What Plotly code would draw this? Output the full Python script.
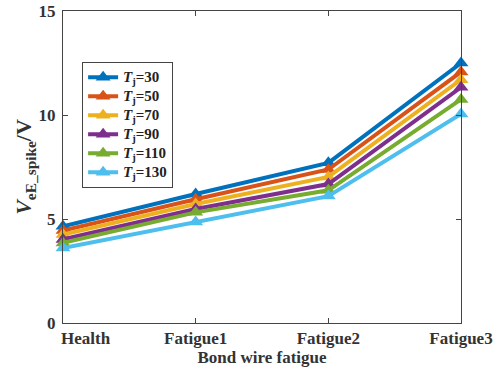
import plotly.graph_objects as go

categories = ["Health", "Fatigue1", "Fatigue2", "Fatigue3"]
temps = [30, 50, 70, 90, 110, 130]
v_30 = [4.65, 6.2, 7.7, 12.5]
v_50 = [4.45, 5.95, 7.38, 12.07]
v_70 = [4.25, 5.72, 7.02, 11.7]
v_90 = [4.02, 5.48, 6.68, 11.33]
v_110 = [3.85, 5.32, 6.38, 10.75]
v_130 = [3.6, 4.86, 6.1, 10.05]
series = [v_30, v_50, v_70, v_90, v_110, v_130]
colors = ["#0072BD", "#D95319", "#EDB120", "#7E2F8E", "#77AC30", "#4DBEEE"]

font_family = "Liberation Serif, Times New Roman, serif"

fig = go.Figure()
for t, vals, c in zip(temps, series, colors):
    fig.add_trace(go.Scatter(
        x=list(range(len(categories))), y=vals, mode="lines+markers",
        name=f"<span style='font-size:15px'><b><i>T</i><sub>j</sub>={t}</b></span>",
        line=dict(color=c, width=4),
        marker=dict(symbol="triangle-up", size=13, color=c),
        cliponaxis=False,
    ))

tickfont = dict(family=font_family, size=17, color="#333333")
axis_common = dict(
    showline=True, linecolor="#444444", linewidth=1, mirror="ticks",
    ticks="inside", ticklen=5, tickcolor="#444444", showgrid=False, zeroline=False,
    tickfont=tickfont, automargin=False,
)

# first category label is drawn left-aligned at its tick (as in the reference)
xticktext = [""] + [f"<b>{c}</b>" for c in categories[1:]]

fig.add_annotation(
    x=0, xref="x", y=-0.013, yref="paper", xanchor="left", yanchor="top",
    text=f"<b>{categories[0]}</b>", showarrow=False, font=tickfont, xshift=-4,
)

fig.update_layout(
    width=499, height=370,
    margin=dict(l=63, r=38, t=11, b=47, autoexpand=False),
    paper_bgcolor="white", plot_bgcolor="white",
    font=dict(family=font_family, color="#333333"),
    xaxis=dict(
        **axis_common,
        tickmode="array", tickvals=list(range(len(categories))),
        ticktext=xticktext,
        range=[0, 3],
        title=dict(text="<b>Bond wire fatigue</b>", font=dict(size=17, family=font_family), standoff=3),
    ),
    yaxis=dict(
        **axis_common,
        tickmode="array", tickvals=[0, 5, 10, 15],
        ticktext=["<b>0</b>", "<b>5</b>", "<b>10</b>", "<b>15</b>"],
        range=[0, 15],
        ticklabelstandoff=3,
        title=dict(text="<b><i>V</i><sub>eE_spike</sub>/V</b>", font=dict(size=22, family=font_family), standoff=0),
    ),
    legend=dict(
        x=0.048, y=0.837, xanchor="left", yanchor="top",
        bordercolor="#444444", borderwidth=1, bgcolor="white",
        font=dict(family=font_family, size=11, color="#222222"),
        tracegroupgap=0, itemwidth=30,
    ),
)

fig.write_html("out.html")
